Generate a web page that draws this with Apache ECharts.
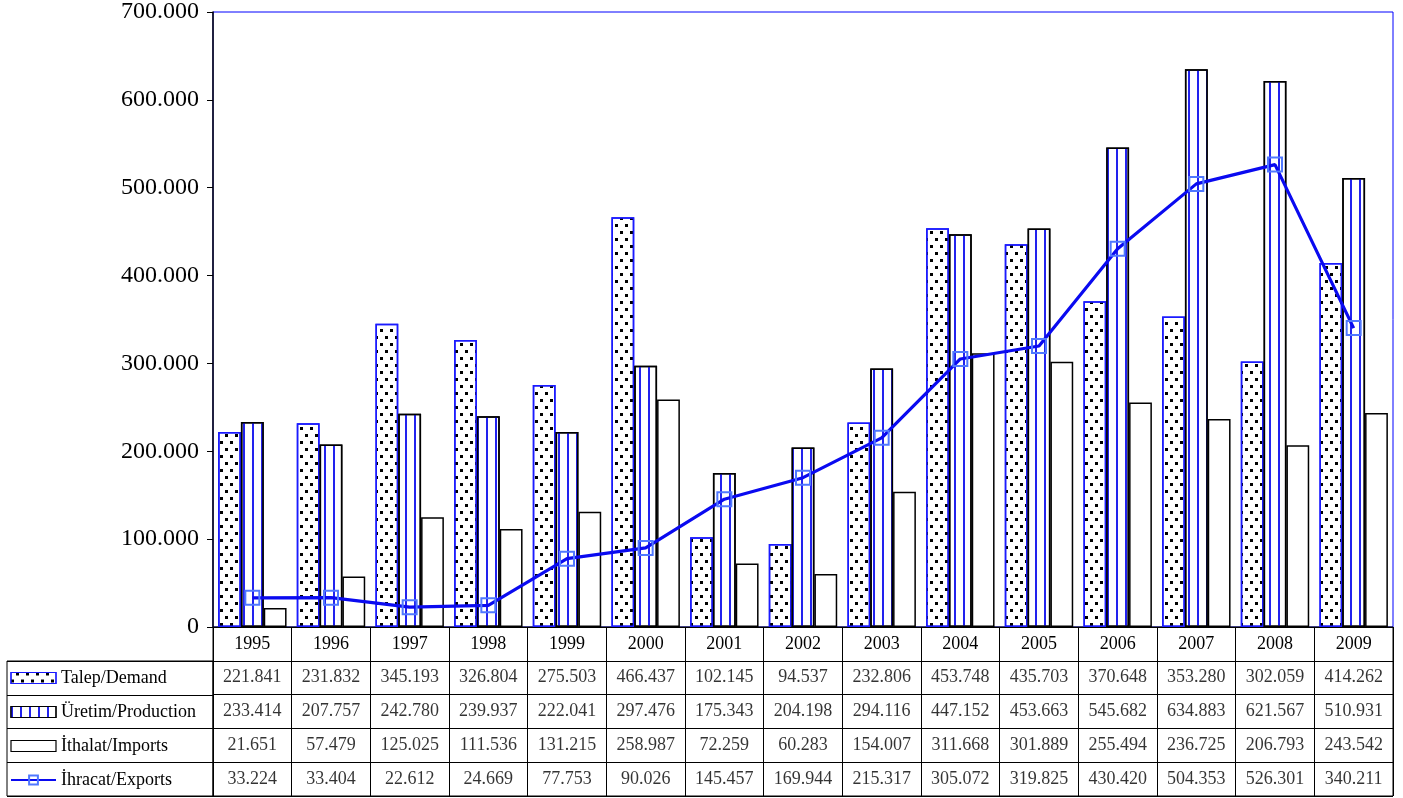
<!DOCTYPE html>
<html>
<head>
<meta charset="utf-8">
<script src="https://cdn.jsdelivr.net/npm/echarts@6/dist/echarts.min.js"></script>
<style>html,body{margin:0;padding:0;background:#fff}#c{width:1403px;height:798px}</style>
</head>
<body>
<div id="c"></div>
<script>
const years = ['1995','1996','1997','1998','1999','2000','2001','2002','2003','2004','2005','2006','2007','2008','2009'];
const demand = [221841,231832,345193,326804,275503,466437,102145,94537,232806,453748,435703,370648,353280,302059,414262];
const production = [233414,207757,242780,239937,222041,297476,175343,204198,294116,447152,453663,545682,634883,621567,510931];
const imports = [21651,57479,125025,111536,131215,258987,72259,60283,154007,311668,301889,255494,236725,206793,243542];
const exports = [33224,33404,22612,24669,77753,90026,145457,169944,215317,305072,319825,430420,504353,526301,340211];
const seriesNames = ['Talep/Demand','Üretim/Production','İthalat/Imports','İhracat/Exports'];
const yTicks = [0,100000,200000,300000,400000,500000,600000,700000];

function fmt(v){
  if (v === 0) return '0';
  const t = Math.floor(v/1000), r = v % 1000;
  return t + '.' + String(r).padStart(3,'0');
}
const FONT = 'Liberation Serif';
const rows = [demand, production, imports, exports];
const tableData = [];
rows.forEach((arr, r) => arr.forEach((v, i) => tableData.push([i, 3.5 - r, v])));

const chart = echarts.init(document.getElementById('c'));
chart.setOption({
  animation: false,
  backgroundColor: '#fff',
  textStyle: { fontFamily: FONT, color: '#000' },
  grid: [
    { left: 213, right: 10, top: 12, height: 615, show: true, borderColor: '#0000ff', borderWidth: 1, backgroundColor: 'transparent' },
    { left: 213, right: 10, top: 627, bottom: 2, show: true, borderColor: '#000', borderWidth: 1, backgroundColor: 'transparent' },
    { left: 7, width: 206, top: 661, bottom: 2, show: true, borderColor: '#000', borderWidth: 1, backgroundColor: 'transparent' }
  ],
  xAxis: [
    { type: 'category', gridIndex: 0, data: years,
      axisLine: { show: true, lineStyle: { color: '#000', width: 1 } },
      axisTick: { show: false },
      axisLabel: { fontFamily: FONT, fontSize: 18, color: '#000', margin: 8 } },
    { type: 'category', gridIndex: 1, data: years, boundaryGap: true,
      axisLine: { show: false }, axisTick: { show: false }, axisLabel: { show: false },
      splitLine: { show: true, interval: 0, lineStyle: { color: '#000', width: 1 } } },
    { type: 'value', gridIndex: 2, min: 0, max: 1, show: false }
  ],
  yAxis: [
    { type: 'value', gridIndex: 0, min: 0, max: 700000, interval: 100000,
      axisLine: { show: true, lineStyle: { color: '#000', width: 1.5 } },
      axisTick: { show: true, length: 6, lineStyle: { color: '#000' } },
      splitLine: { show: false },
      axisLabel: { fontFamily: FONT, fontSize: 24, color: '#000', margin: 14,
        formatter: v => yTicks.indexOf(v) >= 0 ? fmt(v) : '' } },
    { type: 'value', gridIndex: 1, min: 0, max: 5, interval: 1,
      axisLine: { show: false }, axisTick: { show: false }, axisLabel: { show: false },
      splitLine: { show: true, lineStyle: { color: '#000', width: 1 } } },
    { type: 'value', gridIndex: 2, min: 0, max: 4, interval: 1,
      axisLine: { show: false }, axisTick: { show: false }, axisLabel: { show: false },
      splitLine: { show: true, lineStyle: { color: '#000', width: 1 } } }
  ],
  legend: {
    data: [
      { name: seriesNames[0], icon: 'rect', itemStyle: { borderWidth: 1.2, borderColor: '#1a1aff' } },
      { name: seriesNames[1], icon: 'rect', itemStyle: { borderWidth: 1.2, borderColor: '#000' } },
      { name: seriesNames[2], icon: 'rect', itemStyle: { borderWidth: 1.2, borderColor: '#000' } },
      { name: seriesNames[3] }
    ],
    orient: 'vertical', left: 10, top: 669, padding: 0,
    itemWidth: 45, itemHeight: 11, itemGap: 16,
    textStyle: { fontFamily: FONT, fontSize: 18, color: '#000' },
    selectedMode: false
  },
  series: [
    { name: seriesNames[0], type: 'bar', data: demand, barGap: '0%', barCategoryGap: '13%',
      itemStyle: { color: '#fff', borderColor: '#1a1aff', borderWidth: 1.5,
        decal: { symbol: 'rect', symbolSize: 1, color: '#000',
          dashArrayX: [[2.5, 6.5], [0, 4.5, 2.5, 2]], dashArrayY: [2.5, 4], rotation: 0 } } },
    { name: seriesNames[1], type: 'bar', data: production, barGap: '0%', barCategoryGap: '13%',
      itemStyle: { color: '#fff', borderColor: '#000', borderWidth: 1.5,
        decal: { symbol: 'rect', symbolSize: 1, color: '#2222ee',
          dashArrayX: [1.6, 6.4], dashArrayY: [20, 0], rotation: 0 } } },
    { name: seriesNames[2], type: 'bar', data: imports, barGap: '0%', barCategoryGap: '13%',
      itemStyle: { color: '#fff', borderColor: '#000', borderWidth: 1.5 } },
    { name: seriesNames[3], type: 'line', data: exports, symbol: 'rect', symbolSize: 14,
      lineStyle: { color: '#0a0af0', width: 3.2 },
      itemStyle: { color: 'rgba(255,255,255,0)', borderColor: '#5078ff', borderWidth: 2 },
      z: 5 },
    { name: 'table', type: 'scatter', xAxisIndex: 1, yAxisIndex: 1, data: tableData,
      symbolSize: 1, itemStyle: { color: 'rgba(0,0,0,0)' }, silent: true,
      label: { show: true, position: 'inside', fontFamily: FONT, fontSize: 18, color: '#000',
        formatter: p => fmt(p.value[2]) } }
  ]
});
</script>
</body>
</html>
